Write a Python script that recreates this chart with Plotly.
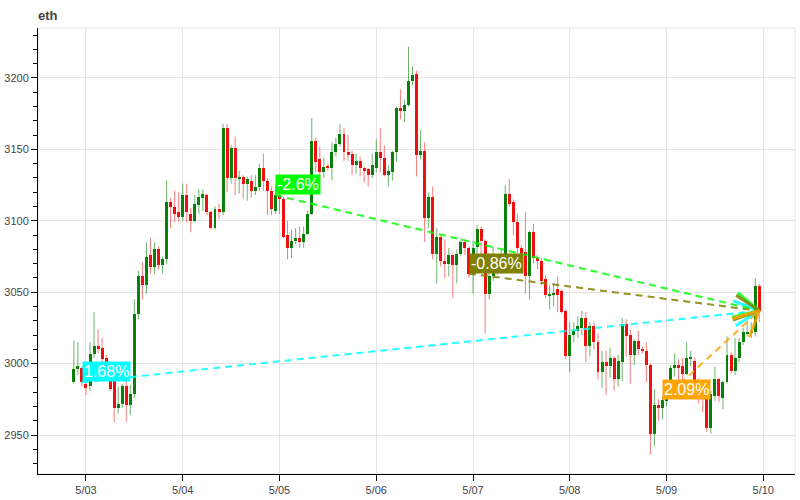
import math
import pandas as pd
import plotly.graph_objects as go

# ---------------- data (hourly ETH candles) ----------------
start_time = "2024-05-02 21:00"

opens = [2987, 2996, 2997, 2986, 2984, 3007, 3012, 3011, 3004, 2993,
         2988, 2969, 2972, 2984, 2971, 2979, 3035, 3061, 3055, 3076,
         3068, 3080, 3069, 3073, 3113, 3110, 3106, 3103, 3118, 3105,
         3100, 3111, 3116, 3118, 3106, 3095, 3108, 3106, 3165, 3130,
         3151, 3129, 3131, 3126, 3128, 3121, 3124, 3137, 3128, 3121,
         3107, 3118, 3115, 3090, 3081, 3086, 3088, 3085, 3091, 3105,
         3156, 3143, 3134, 3138, 3137, 3148, 3154, 3161, 3148, 3147,
         3139, 3142, 3137, 3136, 3132, 3137, 3148, 3144, 3132, 3134,
         3148, 3179, 3177, 3181, 3198, 3203, 3146, 3149, 3102, 3117,
         3077, 3089, 3072, 3070, 3076, 3069, 3077, 3085, 3081, 3063,
         3082, 3094, 3086, 3049, 3061, 3070, 3066, 3073, 3119, 3113,
         3099, 3081, 3078, 3061, 3092, 3074, 3072, 3059, 3048, 3048,
         3052, 3051, 3037, 3005, 3020, 3023, 3025, 3032, 3012, 3026,
         3015, 2994, 3001, 2998, 3004, 2989, 3001, 3028, 3020, 3006,
         3016, 3010, 3009, 2999, 2951, 2971, 2969, 2974, 2978, 2997,
         2999, 2998, 2993, 3003, 3002, 2988, 2977, 2975, 2955, 2977,
         2989, 2976, 2987, 3006, 2995, 3004, 3015, 3021, 3022, 3022,
         3054]
highs = [3016, 3015, 2998, 2987, 3015, 3036, 3024, 3018, 3006, 2998,
         2991, 2984, 2986, 2988, 2985, 3045, 3065, 3071, 3085, 3088,
         3085, 3082, 3075, 3128, 3116, 3121, 3120, 3126, 3126, 3109,
         3118, 3122, 3122, 3119, 3107, 3110, 3112, 3168, 3168, 3153,
         3159, 3135, 3132, 3131, 3132, 3132, 3140, 3147, 3130, 3124,
         3124, 3119, 3117, 3100, 3094, 3095, 3096, 3096, 3107, 3172,
         3158, 3152, 3144, 3140, 3155, 3158, 3168, 3165, 3160, 3149,
         3147, 3145, 3138, 3137, 3147, 3157, 3165, 3153, 3139, 3149,
         3180, 3192, 3185, 3222, 3208, 3205, 3164, 3155, 3120, 3124,
         3095, 3090, 3087, 3081, 3077, 3080, 3088, 3087, 3082, 3086,
         3097, 3096, 3087, 3076, 3082, 3075, 3080, 3125, 3129, 3115,
         3105, 3083, 3106, 3093, 3098, 3076, 3074, 3062, 3055, 3056,
         3061, 3052, 3038, 3029, 3029, 3033, 3037, 3036, 3029, 3029,
         3021, 3009, 3009, 3011, 3005, 3006, 3032, 3031, 3024, 3017,
         3023, 3012, 3015, 3000, 2982, 2975, 2977, 2985, 2999, 3007,
         3003, 3004, 3015, 3009, 3004, 2990, 2984, 2977, 2981, 2998,
         2990, 2988, 3019, 3008, 3018, 3018, 3025, 3030, 3029, 3060,
         3056]
lows = [2986, 2992, 2984, 2978, 2981, 3004, 3007, 3001, 2994, 2981,
        2959, 2965, 2969, 2959, 2964, 2976, 3031, 3045, 3049, 3063,
        3063, 3066, 3063, 3070, 3095, 3099, 3099, 3100, 3099, 3092,
        3099, 3105, 3107, 3104, 3094, 3094, 3101, 3104, 3120, 3126,
        3118, 3119, 3115, 3114, 3116, 3118, 3121, 3121, 3104, 3104,
        3105, 3105, 3088, 3073, 3074, 3084, 3081, 3081, 3090, 3104,
        3134, 3128, 3130, 3135, 3128, 3145, 3152, 3142, 3142, 3132,
        3133, 3131, 3127, 3124, 3130, 3134, 3134, 3131, 3124, 3128,
        3141, 3171, 3169, 3180, 3195, 3131, 3143, 3085, 3095, 3073,
        3056, 3068, 3060, 3061, 3046, 3056, 3075, 3076, 3060, 3049,
        3077, 3076, 3021, 3045, 3058, 3062, 3063, 3072, 3110, 3090,
        3077, 3072, 3049, 3045, 3070, 3066, 3055, 3046, 3038, 3040,
        3036, 3035, 3003, 2994, 3015, 3018, 3020, 3001, 3005, 3010,
        2989, 2983, 2978, 2990, 2981, 2984, 2988, 3005, 2986, 2999,
        3006, 3007, 2987, 2936.5, 2942, 2960, 2961, 2970, 2976, 2991,
        2988, 2987, 2992, 2998, 2986, 2972, 2966, 2952, 2951, 2974,
        2973, 2968, 2986, 2993, 2992, 3001, 3013, 3019, 3018, 3019,
        3029]
closes = [2996.5, 2998, 2987, 2983, 3007, 3012, 3010.5, 3003, 3001, 2982,
          2969, 2972, 2984, 2971, 2979, 3035, 3061, 3055, 3075, 3068,
          3080, 3069, 3073, 3113, 3110, 3105, 3103, 3118, 3106, 3100,
          3112, 3117, 3118.5, 3106, 3095, 3108, 3106, 3165, 3130, 3151,
          3130, 3131, 3126, 3129, 3121, 3124, 3137, 3128, 3121, 3108,
          3118, 3115, 3089, 3081, 3086, 3088, 3085, 3091, 3105, 3156,
          3141, 3134, 3138, 3137, 3148, 3154, 3161, 3148, 3146, 3139,
          3142, 3137, 3135, 3132, 3139, 3148, 3144, 3132, 3135, 3148,
          3179, 3177, 3181, 3198, 3202, 3146, 3149, 3102, 3117, 3077,
          3089, 3072, 3070, 3076, 3069, 3077, 3085, 3081, 3063, 3081,
          3094, 3086, 3049, 3061, 3070, 3066, 3072, 3119, 3112, 3099,
          3081, 3077, 3061, 3092, 3074, 3072, 3058, 3048, 3049, 3049.5,
          3048, 3036, 3005, 3020, 3023, 3026, 3032, 3012, 3026, 3015,
          2994, 3001, 2998, 3004, 2989, 3002, 3028, 3019, 3006, 3016,
          3010, 3009, 2999, 2951, 2971, 2969, 2974.5, 2978, 2997, 2999,
          2997, 2993, 3004, 3004.5, 2988, 2977, 2975, 2955, 2979, 2989,
          2977, 2987, 3006, 2995, 3004, 3015, 3022, 3022, 3023, 3054,
          3037]

tick_dates = ["2024-05-03", "2024-05-04", "2024-05-05", "2024-05-06",
              "2024-05-07", "2024-05-08", "2024-05-09", "2024-05-10"]
tick_labels = ["5/03", "5/04", "5/05", "5/06", "5/07", "5/08", "5/09", "5/10"]

arrow_start_times = ["2024-05-02 23:00", "2024-05-04 23:00",
                     "2024-05-06 23:00", "2024-05-08 23:00"]
arrow_labels = ["1.68%", "-2.6%", "-0.86%", "2.09%"]
arrow_colors = ["#00ffff", "#00ff00", "#808000", "#ffa500"]

# ---------------- layout constants ----------------
W, H = 800, 500
ML, MR, MT, MB = 38, 5, 28, 26
x_range = [pd.Timestamp("2024-05-02 12:06"), pd.Timestamp("2024-05-10 07:52")]
y_range = [2922.7, 3235]
UP, DOWN = "#0a800a", "#ee1111"
UP_W, DOWN_W = "rgba(10,128,10,0.6)", "rgba(238,17,17,0.55)"
FONT = "Liberation Sans, Arial, Helvetica, sans-serif"

times = pd.date_range(start_time, periods=len(opens), freq="h")

fig = go.Figure()

# wicks
for up, col in ((True, UP_W), (False, DOWN_W)):
    xs, ys = [], []
    for t, o, h, l, c in zip(times, opens, highs, lows, closes):
        if (c >= o) == up:
            xs += [t, t, None]
            ys += [l, h, None]
    fig.add_trace(go.Scatter(x=xs, y=ys, mode="lines",
                             line=dict(color=col, width=1),
                             hoverinfo="skip", showlegend=False))

# bodies
bases = [min(o, c) for o, c in zip(opens, closes)]
heights = [max(abs(c - o), 0.5) for o, c in zip(opens, closes)]
cols = [UP if c >= o else DOWN for o, c in zip(opens, closes)]
fig.add_trace(go.Bar(x=times, y=heights, base=bases,
                     width=0.74 * 3600 * 1000,
                     marker=dict(color=cols, line=dict(width=0)),
                     showlegend=False, hoverinfo="skip"))

# arrows
plot_w = W - ML - MR
plot_h = H - MT - MB
ms_span = (x_range[1] - x_range[0]).total_seconds() * 1000
px_per_ms = plot_w / ms_span
px_per_val = plot_h / (y_range[1] - y_range[0])
close_by_time = dict(zip(times, closes))
t_end = times[-1]
p_end = closes[-1]
head_len = 25 * math.sqrt(1.25)
head_ang = math.atan(0.5)

annotations = []
for st, lab, col in zip(arrow_start_times, arrow_labels, arrow_colors):
    t0 = pd.Timestamp(st)
    p0 = close_by_time[t0]
    fig.add_trace(go.Scatter(x=[t0, t_end], y=[p0, p_end], mode="lines",
                             line=dict(color=col, width=2, dash="7px,5px"),
                             opacity=0.85, hoverinfo="skip", showlegend=False))
    # open arrow head, computed in pixel space
    dx = (t0 - t_end).total_seconds() * 1000 * px_per_ms
    dy = (p0 - p_end) * px_per_val
    n = math.hypot(dx, dy)
    ux, uy = dx / n, dy / n
    hx, hy = [], []
    for sgn in (1, -1):
        a = sgn * head_ang
        rx = ux * math.cos(a) - uy * math.sin(a)
        ry = ux * math.sin(a) + uy * math.cos(a)
        hx.append(t_end + pd.Timedelta(milliseconds=rx * head_len / px_per_ms))
        hy.append(p_end + ry * head_len / px_per_val)
    fig.add_trace(go.Scatter(x=[hx[0], t_end, hx[1]], y=[hy[0], p_end, hy[1]],
                             mode="lines", line=dict(color=col, width=3),
                             opacity=0.85, hoverinfo="skip", showlegend=False))
    annotations.append(dict(x=t0, y=p0, xref="x", yref="y", text=lab,
                            showarrow=False, xanchor="left", yanchor="bottom",
                            bgcolor=col, borderpad=1,
                            font=dict(family=FONT, size=16, color="white")))

fig.update_layout(
    width=W, height=H,
    margin=dict(l=ML, r=MR, t=MT, b=MB, autoexpand=False),
    plot_bgcolor="white", paper_bgcolor="white",
    showlegend=False, bargap=0,
    annotations=annotations,
    title=dict(text="<b>eth</b>", x=0, xref="paper", xanchor="left",
               y=1 - 15 / H, yref="container", yanchor="middle",
               font=dict(family=FONT, size=13, color="#444444")),
    font=dict(family=FONT, size=11, color="#444444"),
    shapes=[dict(type="rect", xref="paper", yref="paper", x0=0, x1=1, y0=0, y1=1,
                 line=dict(color="#e5e5e5", width=1), layer="below")],
)
fig.update_xaxes(type="date", range=x_range, automargin=False,
                 tickvals=[pd.Timestamp(d) for d in tick_dates], ticktext=tick_labels,
                 showgrid=True, gridcolor="#e5e5e5", gridwidth=1,
                 showline=True, linecolor="black", linewidth=1,
                 ticks="outside", ticklen=6, tickcolor="black",
                 tickfont=dict(family=FONT, size=11, color="#444444"),
                 zeroline=False)
fig.update_yaxes(range=y_range, tick0=2950, dtick=50, automargin=False,
                 showgrid=True, gridcolor="#e5e5e5", gridwidth=1,
                 showline=True, linecolor="black", linewidth=1,
                 ticks="outside", ticklen=6, tickcolor="black",
                 minor=dict(dtick=10, tick0=2950, ticks="outside", ticklen=4,
                            tickcolor="black", showgrid=False),
                 tickfont=dict(family=FONT, size=11, color="#444444"),
                 zeroline=False)

fig.write_html("out.html",
               config={"displayModeBar": False},
               post_script="document.body.style.margin='0';"
                           "document.body.style.padding='0';")
